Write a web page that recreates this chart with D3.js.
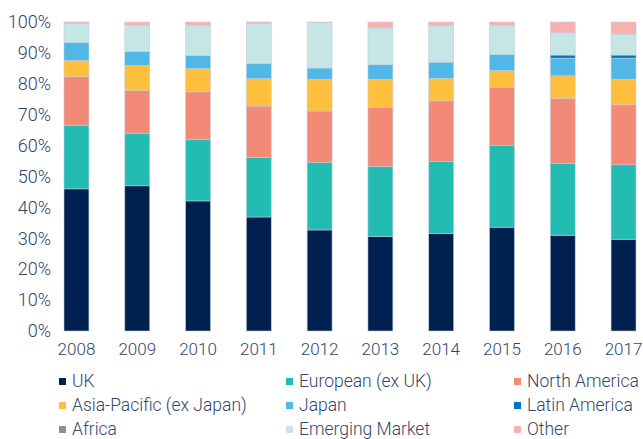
<!DOCTYPE html>
<html>
<head>
<meta charset="utf-8">
<script src="https://cdn.jsdelivr.net/npm/d3@7"></script>
<style>
  body { margin: 0; background: #fff; }
  svg text { font-family: Roboto, "Liberation Sans", sans-serif; font-weight: 300; fill: #33456b; }
</style>
</head>
<body>
<div id="chart"></div>
<script>
const years = ["2008", "2009", "2010", "2011", "2012", "2013", "2014", "2015", "2016", "2017"];
const regions = ["UK", "European (ex UK)", "North America", "Asia-Pacific (ex Japan)", "Japan",
  "Latin America", "Africa", "Emerging Market", "Other"];

// share of each region per year, in %
const uk = [46.0, 47.0, 42.1, 36.9, 32.7, 30.6, 31.6, 33.6, 31.0, 29.7];
const european = [20.6, 17.0, 19.8, 19.2, 21.8, 22.6, 23.2, 26.5, 23.3, 24.1];
const northAmerica = [15.7, 13.8, 15.5, 16.7, 16.7, 19.1, 19.7, 18.8, 20.9, 19.4];
const asiaPacific = [5.3, 8.2, 7.6, 8.9, 10.3, 9.2, 7.3, 5.4, 7.4, 8.3];
const japan = [5.8, 4.4, 4.1, 4.8, 3.6, 4.7, 5.2, 5.2, 5.7, 6.8];
const latinAmerica = [0, 0, 0, 0, 0, 0, 0, 0, 1.0, 1.0];
const africa = [0, 0, 0, 0, 0, 0, 0, 0, 0, 0];
const emergingMarket = [6.1, 8.6, 9.9, 13.0, 14.7, 11.9, 11.8, 9.5, 7.2, 6.8];
const other = [0.5, 1.0, 1.0, 0.5, 0.2, 1.9, 1.2, 1.0, 3.5, 3.9];

const series = [uk, european, northAmerica, asiaPacific, japan, latinAmerica, africa, emergingMarket, other];
const colors = ["#00204f", "#22bcb2", "#f28a77", "#fec03c", "#4fb8e7", "#0474bd", "#8c909b", "#c5e6e4", "#f9b1b0"];
const yTicks = [0, 10, 20, 30, 40, 50, 60, 70, 80, 90, 100];

const rows = years.map((year, i) => {
  const row = { year };
  regions.forEach((r, j) => (row[r] = series[j][i]));
  return row;
});
const stacked = d3.stack().keys(regions)(rows);

const svg = d3
  .select("#chart")
  .append("svg")
  .attr("width", 643)
  .attr("height", 439);

// Scales
const x = d3.scaleBand().domain(years).range([64, 636]).paddingInner(0.59).paddingOuter(0);
const y = d3.scaleLinear().domain([0, 100]).range([331, 22]);
const color = d3.scaleOrdinal().domain(regions).range(colors);

// Bars
svg
  .append("g")
  .selectAll("g")
  .data(stacked)
  .enter()
  .append("g")
  .attr("fill", (d) => color(d.key))
  .selectAll("rect")
  .data((d) => d)
  .enter()
  .append("rect")
  .attr("x", (d) => x(d.data.year))
  .attr("width", x.bandwidth())
  .attr("y", (d) => y(d[1]))
  .attr("height", (d) => y(d[0]) - y(d[1]))
  .attr("stroke", "rgba(190, 205, 225, 0.8)")
  .attr("stroke-width", 0.7);

// Axes
svg
  .append("g")
  .attr("transform", "translate(0,331)")
  .call(d3.axisBottom(x).tickSize(0).tickPadding(12))
  .call((g) => g.select(".domain").remove())
  .selectAll("text")
  .style("font-size", "17px");

svg
  .append("g")
  .attr("transform", "translate(51,0)")
  .call(d3.axisLeft(y).tickValues(yTicks).tickSize(0).tickPadding(0).tickFormat((d) => d + "%"))
  .call((g) => g.select(".domain").remove())
  .selectAll("text")
  .style("font-size", "18px");

// Legend
const legendCols = [59, 286, 514];
const legendRows = [381, 405, 429];
const legend = svg
  .append("g")
  .selectAll("g")
  .data(regions)
  .enter()
  .append("g")
  .attr("transform", (d, i) => `translate(${legendCols[i % 3]},${legendRows[Math.floor(i / 3)]})`);

legend
  .append("rect")
  .attr("y", -3)
  .attr("width", 7)
  .attr("height", 7)
  .attr("fill", (d) => color(d));

legend
  .append("text")
  .attr("x", 13)
  .attr("y", 0)
  .attr("dy", "0.35em")
  .style("font-size", "17.5px")
  .text((d) => d);
</script>
</body>
</html>
